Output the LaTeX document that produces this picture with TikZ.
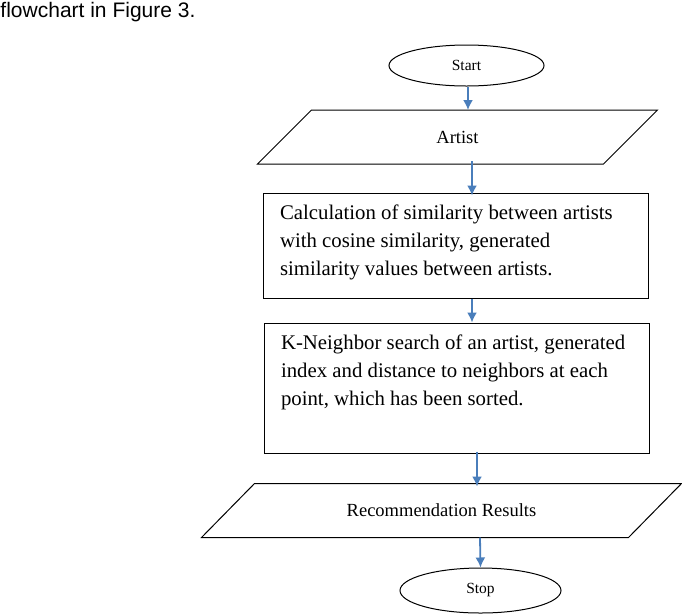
\documentclass[tikz,border=0pt]{standalone}
\usepackage{fontspec}
\setmainfont{Liberation Serif}
\newfontfamily\arialfont{Liberation Sans}
\usetikzlibrary{shapes.geometric}
\usetikzlibrary{arrows.meta}
\definecolor{flowblue}{RGB}{74,126,187}

\begin{document}
\begin{tikzpicture}[x=1pt, y=-1pt, line width=1pt,
	terminal/.style={draw, ellipse, inner sep=0pt, font=\fontsize{15.5}{18}\selectfont},
	io/.style={rectangle, minimum height=53pt, inner sep=0pt, font=\fontsize{18.5}{22}\selectfont},
	process/.style={draw, rectangle, inner xsep=17pt, inner ysep=12pt, font=\fontsize{20.8}{28}\selectfont},
	flow/.style={-{Latex[length=10pt,width=10pt]}, line width=1.8pt, flowblue}]
	\useasboundingbox (0,0) rectangle (682,614);
	\node [anchor=base west, inner sep=0pt, font=\arialfont\fontsize{21}{24}\selectfont] (intro) at (0,17.5) {flowchart in Figure 3.};
	\node [terminal, minimum width=155pt, minimum height=41pt] (start) at (466.5,65.5) {Start};
	\node [io, minimum width=345pt] (artist) at (457.5,137) {Artist};
	\draw ([xshift=27pt]artist.north west) -- ([xshift=27pt]artist.north east) -- ([xshift=-27pt]artist.south east) -- ([xshift=-27pt]artist.south west) -- cycle;
	\node [process] (calc) at (455.5,245.5) {\parbox[c][81pt][t]{351pt}{Calculation of similarity between artists\\ with cosine similarity, generated\\ similarity values between artists.}};
	\node [process] (knn) at (456.5,388) {\parbox[c][106pt][t]{351pt}{K-Neighbor search of an artist, generated\\ index and distance to neighbors at each\\ point, which has been sorted.}};
	\node [io, minimum width=426pt] (results) at (441.5,510.5) {Recommendation Results};
	\draw ([xshift=26.5pt]results.north west) -- ([xshift=26.5pt]results.north east) -- ([xshift=-26.5pt]results.south east) -- ([xshift=-26.5pt]results.south west) -- cycle;
	\node [terminal, minimum width=161pt, minimum height=45pt] (stop) at (480.5,590.5) {Stop};
	\draw [flow] ([xshift=1.5pt]start.south) -- ([xshift=10.5pt]artist.north);
	\draw [flow] ([xshift=14.5pt,yshift=3pt]artist.south) -- ([xshift=16.5pt,yshift=-3pt]calc.north);
	\draw [flow] ([xshift=16.5pt]calc.south) -- ([xshift=15.5pt]knn.north);
	\draw [flow] ([xshift=20.5pt,yshift=2pt]knn.south) -- ([xshift=35.5pt,yshift=-3pt]results.north);
	\draw [flow] ([xshift=38.5pt]results.south) -- (stop.north);
\end{tikzpicture}
\end{document}
